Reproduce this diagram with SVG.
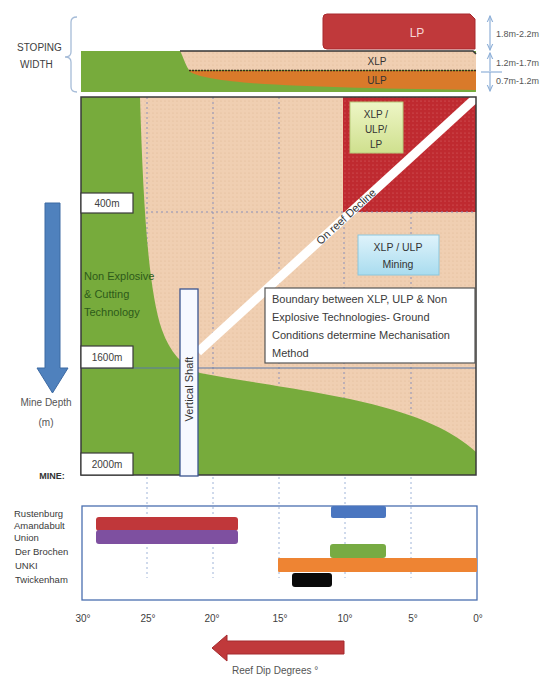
<svg xmlns="http://www.w3.org/2000/svg" width="554" height="676" viewBox="0 0 554 676">
<defs>
<pattern id="dotsB" width="4" height="4" patternUnits="userSpaceOnUse"><rect width="4" height="4" fill="#f0cfb2"/><circle cx="1" cy="1" r="0.6" fill="#e0b895"/></pattern>
<pattern id="dotsR" width="4" height="4" patternUnits="userSpaceOnUse"><rect width="4" height="4" fill="#bf2a30"/><circle cx="1" cy="1" r="0.6" fill="#d9686b"/></pattern>
<linearGradient id="gGreen" x1="0" y1="0" x2="0" y2="1"><stop offset="0" stop-color="#eef6c6"/><stop offset="1" stop-color="#cfe08e"/></linearGradient>
<linearGradient id="gBlue" x1="0" y1="0" x2="0" y2="1"><stop offset="0" stop-color="#dff3fb"/><stop offset="1" stop-color="#a9dcef"/></linearGradient>
<marker id="dimA" viewBox="0 0 10 10" refX="9" refY="5" markerWidth="6" markerHeight="6" orient="auto-start-reverse"><path d="M0,1 L9,5 L0,9" fill="none" stroke="#8fb0d8" stroke-width="1.5"/></marker>
</defs>
<style>
text{font-family:"Liberation Sans",Arial,sans-serif;fill:#404040}
.lbl{font-size:10px}
.co{font-size:9.5px;fill:#3a3a3a}
.ax{font-size:10px;text-anchor:middle;fill:#404040}
.gridv{stroke:#8b90b8;stroke-width:1;stroke-dasharray:2 3}
.gridb{stroke:#9fb4d8;stroke-width:1;stroke-dasharray:2 3}
.dbox{fill:#fff;stroke:#3a3a3a;stroke-width:1.2}
.dim{stroke:#8fb0d8;stroke-width:1.2;fill:none}
</style>
<rect width="554" height="676" fill="#fff"/>

<g id="stoping-label">
<text x="17" y="51" class="lbl">STOPING</text>
<text x="20" y="68" class="lbl">WIDTH</text>
<path d="M77,17 Q71,17 71,22 L71,52 Q71,57 65,57 Q71,57 71,62 L71,87 Q71,92 77,92" fill="none" stroke="#a6bcd8" stroke-width="1.3"/>
</g>

<g id="lp-box">
<path d="M323,18 Q323,14 327,14 L470,14 L475,19 L475,49 L327,49 Q323,49 323,45 Z" fill="#c0393b" stroke="#a82a2e" stroke-width="1"/>
<text x="417" y="37" text-anchor="middle" style="font-size:12px;fill:#f6d6d6">LP</text>
</g>

<g id="stoping-strip">
<rect x="81" y="51" width="395" height="41" fill="#77ab3c"/>
<path d="M180,51 L473,51 L476,54 L476,70 L189,70 C185,64 183,56 180,51 Z" fill="url(#dotsB)"/>
<path d="M189,71 L476,71 L476,90 C400,89 300,87 250,83 C215,80 195,76 189,71 Z" fill="#d97a2a"/>
<path d="M180,51 L473,51 L476,54" fill="none" stroke="#333" stroke-width="1.5"/>
<path d="M189,70.5 L476,70.5" fill="none" stroke="#3a2a1a" stroke-width="1.5" stroke-dasharray="2 1"/>
<text x="377" y="65" text-anchor="middle" style="font-size:10px;fill:#333">XLP</text>
<text x="377" y="84" text-anchor="middle" style="font-size:10px;fill:#333">ULP</text>
</g>

<g id="dimensions">
<text x="496" y="37" style="font-size:9px;fill:#555">1.8m-2.2m</text>
<text x="496" y="66" style="font-size:9px;fill:#555">1.2m-1.7m</text>
<text x="496" y="84" style="font-size:9px;fill:#555">0.7m-1.2m</text>
</g>

<g id="chart">
<rect x="81" y="97" width="395" height="378" fill="url(#dotsB)"/>
<rect x="343" y="97" width="133" height="115" fill="url(#dotsR)"/>
<line x1="147" y1="97" x2="147" y2="475" class="gridv"/>
<line x1="213" y1="97" x2="213" y2="475" class="gridv"/>
<line x1="279" y1="97" x2="279" y2="475" class="gridv"/>
<line x1="344" y1="212" x2="344" y2="475" class="gridv"/>
<line x1="411" y1="212" x2="411" y2="475" class="gridv"/>
<line x1="81" y1="212" x2="476" y2="212" class="gridv"/>
<path id="green-zone" d="M81,97 L140,97 C143,200 148,290 162,330 C170,352 182,366 200,373 C300,392 420,400 476,452 L476,475 L81,475 Z" fill="#77ab3c"/>
<line x1="81" y1="368" x2="476" y2="368" stroke="#5a78a8" stroke-width="1"/>
<line x1="480" y1="94" x2="198" y2="352" stroke="#fff" stroke-width="9"/>
<text transform="translate(346,216.5) rotate(-42.5)" text-anchor="middle" style="font-size:11px;fill:#333" dy="3.8">On reef Decline</text>
<rect x="81" y="97" width="395" height="378" fill="none" stroke="#3a3a3a" stroke-width="1.5"/>
</g>

<g id="node-xlp-ulp-lp">
<rect x="350" y="102" width="53" height="51" fill="url(#gGreen)" stroke="#b8c97a" stroke-width="1"/>
<text x="376" y="118" text-anchor="middle" style="font-size:10px;fill:#333">XLP /</text>
<text x="376" y="133" text-anchor="middle" style="font-size:10px;fill:#333">ULP/</text>
<text x="376" y="148" text-anchor="middle" style="font-size:10px;fill:#333">LP</text>
</g>

<g id="node-xlp-ulp-mining">
<rect x="358" y="235" width="81" height="40" fill="url(#gBlue)" stroke="#8cc6db" stroke-width="1"/>
<text x="398" y="251" text-anchor="middle" style="font-size:10.5px;fill:#333">XLP / ULP</text>
<text x="398" y="268" text-anchor="middle" style="font-size:10.5px;fill:#333">Mining</text>
</g>

<g id="node-boundary">
<rect x="265" y="288" width="210" height="75" fill="#fff" stroke="#555" stroke-width="1.2"/>
<text x="272" y="303" style="font-size:11px;fill:#3a3a3a">Boundary between XLP, ULP &amp; Non</text>
<text x="272" y="321" style="font-size:11px;fill:#3a3a3a">Explosive Technologies- Ground</text>
<text x="272" y="339" style="font-size:11px;fill:#3a3a3a">Conditions determine Mechanisation</text>
<text x="272" y="357" style="font-size:11px;fill:#3a3a3a">Method</text>
</g>

<g id="node-non-explosive">
<text x="84" y="280" style="font-size:11px;fill:#2d5a1a">Non Explosive</text>
<text x="84" y="298" style="font-size:11px;fill:#2d5a1a">&amp; Cutting</text>
<text x="84" y="316" style="font-size:11px;fill:#2d5a1a">Technology</text>
</g>

<g id="node-vertical-shaft">
<rect x="180" y="289" width="18" height="187" fill="#f7f9ff" stroke="#3b5590" stroke-width="1.3"/>
<text transform="translate(193,389) rotate(-90)" text-anchor="middle" style="font-size:11px;fill:#333">Vertical Shaft</text>
</g>

<g id="depth-labels">
<rect x="81" y="193" width="52" height="20" class="dbox"/>
<text x="107" y="207" text-anchor="middle" class="lbl">400m</text>
<rect x="81" y="346" width="52" height="22" class="dbox"/>
<text x="107" y="361" text-anchor="middle" class="lbl">1600m</text>
<rect x="81" y="453" width="52" height="22" class="dbox"/>
<text x="107" y="468" text-anchor="middle" class="lbl">2000m</text>
</g>

<g id="depth-axis-label">
<text x="46" y="406" text-anchor="middle" style="font-size:10px;fill:#555">Mine Depth</text>
<text x="46" y="426" text-anchor="middle" style="font-size:10px;fill:#555">(m)</text>
<text x="52" y="479" text-anchor="middle" style="font-size:9px;font-weight:bold;fill:#333">MINE:</text>
</g>

<g id="mines-panel">
<line x1="147" y1="477" x2="147" y2="578" class="gridb"/>
<line x1="213" y1="477" x2="213" y2="578" class="gridb"/>
<line x1="279" y1="477" x2="279" y2="578" class="gridb"/>
<line x1="345" y1="477" x2="345" y2="578" class="gridb"/>
<line x1="411" y1="477" x2="411" y2="578" class="gridb"/>
<rect x="82" y="506" width="395" height="94" fill="none" stroke="#4a6fb0" stroke-width="1.3"/>
<rect x="96" y="517" width="142" height="14" rx="3" fill="#c0373a"/>
<rect x="96" y="530" width="142" height="14" rx="3" fill="#7e50a0"/>
<rect x="331" y="506" width="55" height="12" rx="2" fill="#4a76c0"/>
<rect x="330" y="544" width="56" height="14" rx="3" fill="#77ab43"/>
<rect x="278" y="558" width="199" height="14" rx="1" fill="#ee8433"/>
<rect x="292" y="573" width="40" height="14" rx="3" fill="#0a0a0a"/>
<text x="14" y="517" class="co">Rustenburg</text>
<text x="14" y="529" class="co">Amandabult</text>
<text x="14" y="541" class="co">Union</text>
<text x="15" y="555" class="co">Der Brochen</text>
<text x="15" y="569" class="co">UNKI</text>
<text x="15" y="583" class="co">Twickenham</text>
</g>

<g id="dip-axis">
<text x="83" y="622" class="ax">30°</text>
<text x="148" y="622" class="ax">25°</text>
<text x="212" y="622" class="ax">20°</text>
<text x="280" y="622" class="ax">15°</text>
<text x="345" y="622" class="ax">10°</text>
<text x="413" y="622" class="ax">5°</text>
<text x="478" y="622" class="ax">0°</text>
<text x="232" y="674" style="font-size:10px;fill:#555">Reef Dip Degrees °</text>
</g>

<g id="connectors">
<line x1="490" y1="16" x2="490" y2="50" class="dim" marker-start="url(#dimA)" marker-end="url(#dimA)"/>
<line x1="490" y1="53" x2="490" y2="71" class="dim" marker-start="url(#dimA)"/>
<line x1="481" y1="72" x2="502" y2="72" class="dim"/>
<line x1="490" y1="72" x2="490" y2="91" class="dim" marker-end="url(#dimA)"/>
<polygon points="45,203 60,203 60,368 68,368 52.5,393 37,368 45,368" fill="#4f81bd" stroke="#3d6aa3" stroke-width="1"/>
<polygon points="344,641 227,641 227,635 212,648 227,661 227,654 344,654" fill="#c0393b" stroke="#a52a2e" stroke-width="1"/>
</g>
</svg>
